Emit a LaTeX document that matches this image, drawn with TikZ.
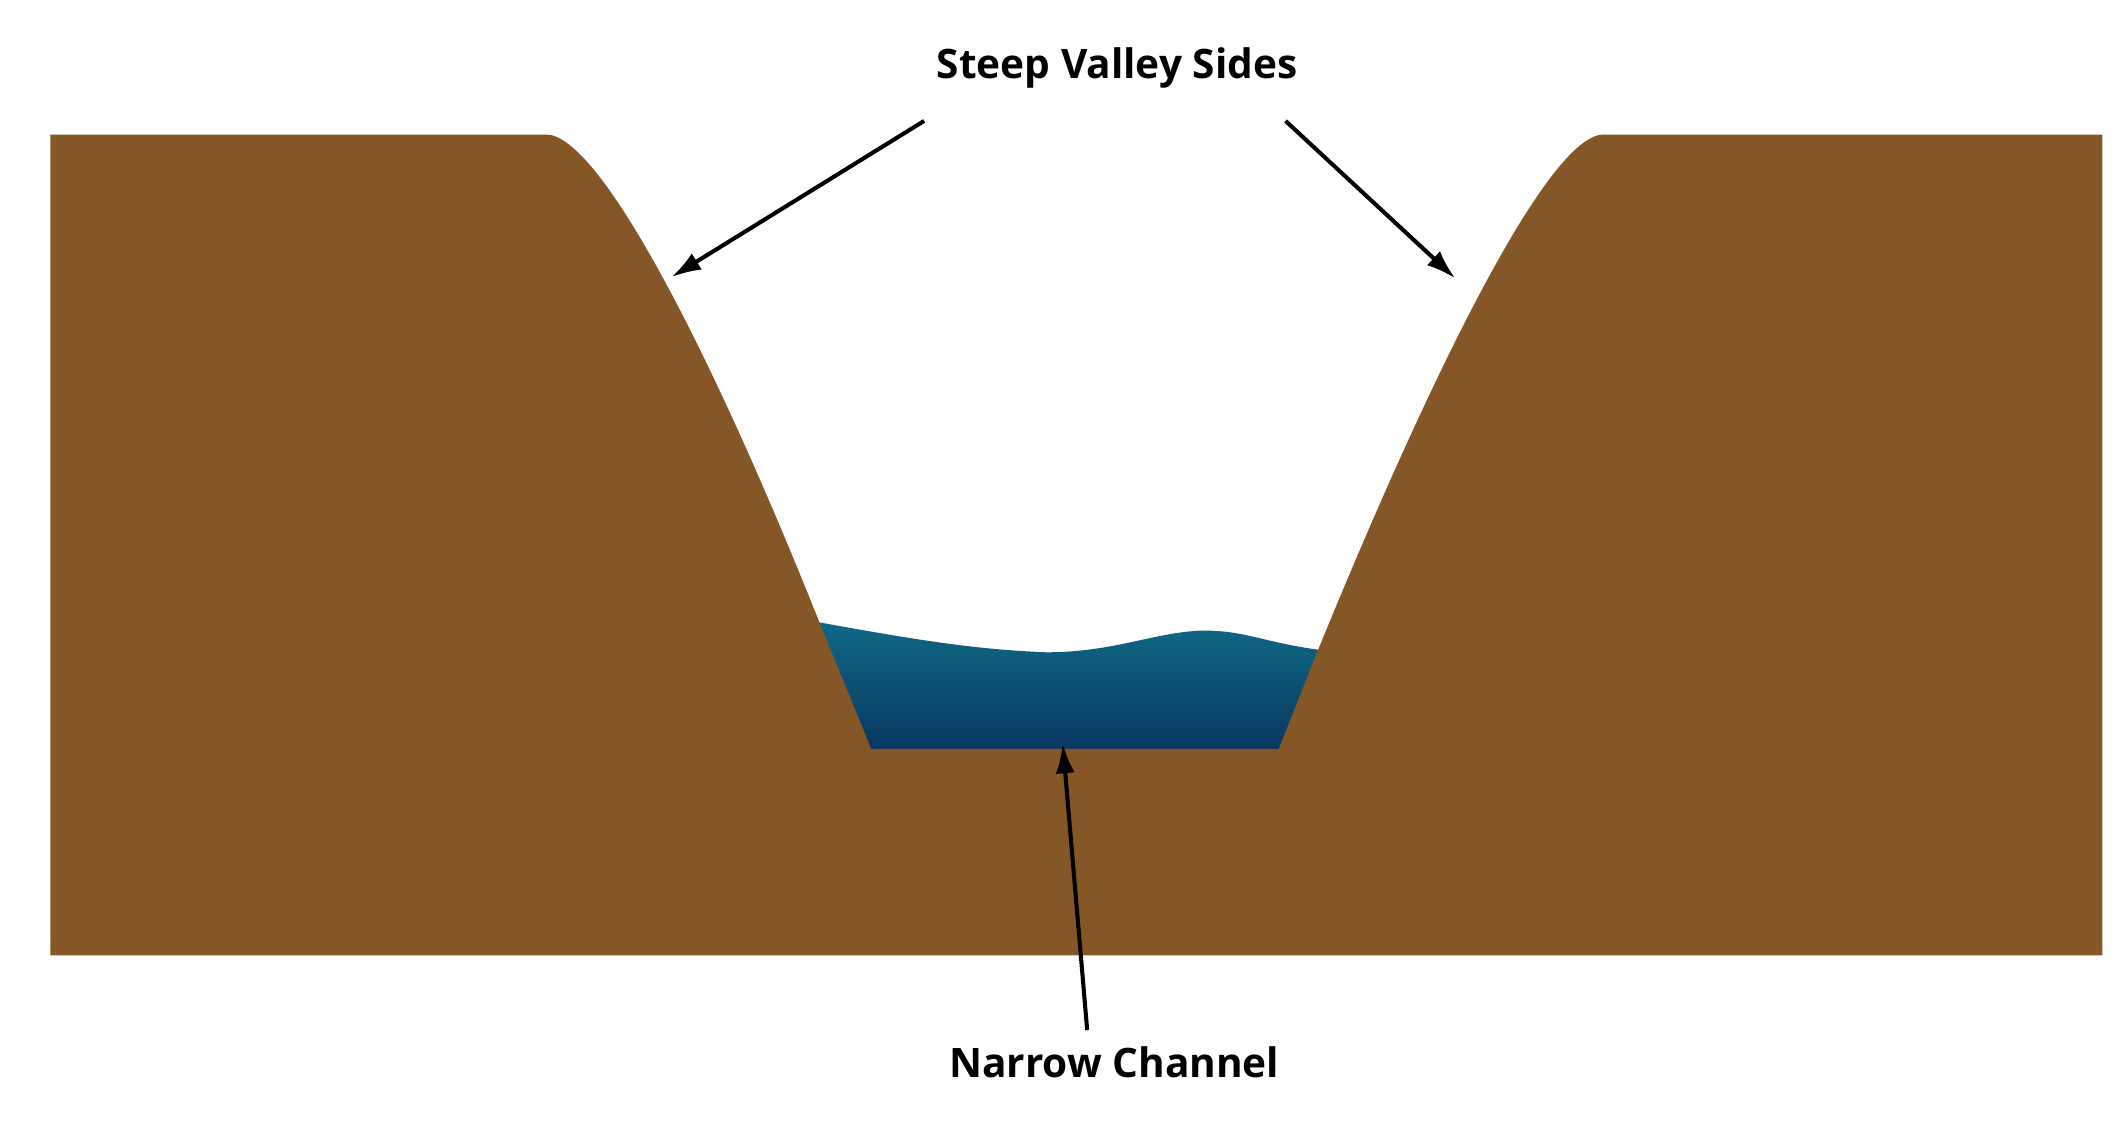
\documentclass[tikz,border=0pt]{standalone}
\usepackage{fontspec}
\setmainfont{Open Sans}
\usetikzlibrary{arrows.meta}
\definecolor{earth}{HTML}{865726}
\definecolor{watertop}{HTML}{0E6A85}
\definecolor{waterbot}{HTML}{0A3560}
\tikzset{
  label/.style={font=\fontsize{17}{20}\selectfont\bfseries, text=black},
  pointer/.style={line width=1.7pt, -{Latex[length=12.5pt,width=8pt]}}
}
\begin{document}
\begin{tikzpicture}[x=0.02cm,y=-0.02cm]
\useasboundingbox (0,0) rectangle (1560,830);
% water
\shade[top color=watertop, bottom color=waterbot]
  (590,456) -- (603,458) .. controls (680,472) and (720,478) .. (770,480)
  .. controls (820,480) and (850,465) .. (885,464)
  .. controls (920,464) and (930,474) .. (985,480) -- (985,555) -- (590,555) -- cycle;
% ground
\fill[earth] (37,99) -- (402,99) .. controls (440,99) and (520,250) .. (603,458)
  -- (641,551) -- (941,551) -- (970,478)
  .. controls (1055,270) and (1140,99) .. (1180,99)
  -- (1547,99) -- (1547,703) -- (37,703) -- cycle;
% labels
\node[label] (sides) at (822,50) {Steep Valley Sides};
\node[label] (channel) at (820,782) {Narrow Channel};
\coordinate (leftslope) at (494,204);
\coordinate (rightslope) at (1071,205);
\coordinate (bed) at (782,547);
\draw[pointer] (680,89) -- (leftslope);
\draw[pointer] (946,89) -- (rightslope);
\draw[pointer] (800,758) -- (bed);
\end{tikzpicture}
\end{document}
